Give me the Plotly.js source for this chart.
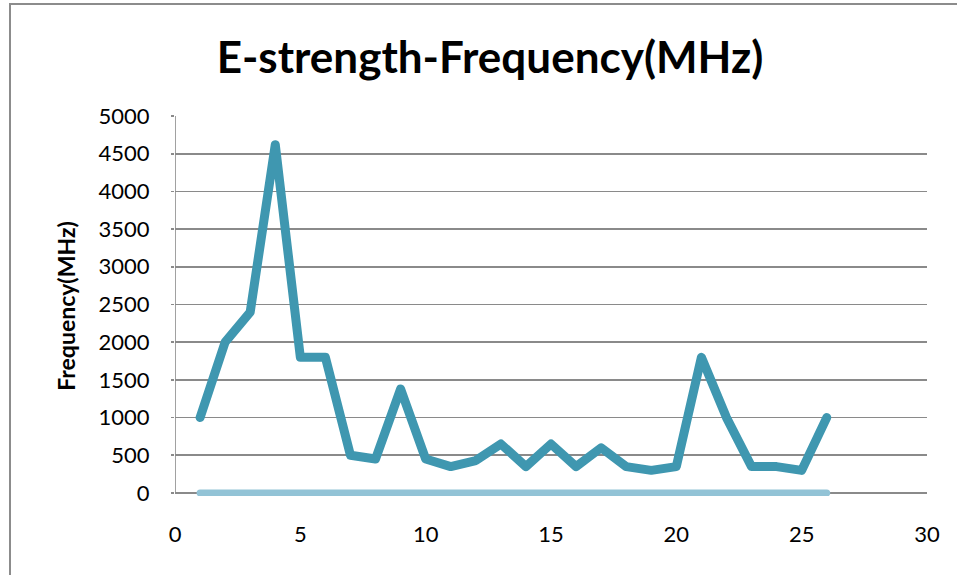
<!DOCTYPE html>
<html>
<head>
<meta charset="utf-8">
<script src="https://cdn.plot.ly/plotly-3.0.1.min.js"></script>
<style>
  html, body { margin: 0; padding: 0; background: #fff; overflow: hidden; }
  #wrap { position: relative; width: 957px; height: 575px; }
  #frame { position: absolute; left: 9px; top: 3px; width: 1000px; height: 620px;
           border-left: 2px solid #8c8c8c; border-top: 2px solid #8c8c8c; pointer-events: none; }
  #chart { position: absolute; left: 0; top: 0; width: 957px; height: 575px; }
  #chart path.js-line { stroke-linecap: round; stroke-linejoin: round; }
</style>
</head>
<body>
<div id="wrap">
  <div id="chart"></div>
  <div id="frame"></div>
</div>
<script>
// Sample index along the x axis
const sampleIndex = [1, 2, 3, 4, 5, 6, 7, 8, 9, 10, 11, 12, 13, 14, 15, 16, 17, 18, 19, 20, 21, 22, 23, 24, 25, 26];
// Measured frequency (MHz) for each sample
const frequencyMHz = [1000, 2000, 2400, 4620, 1800, 1800, 500, 450, 1380, 450, 350, 430, 650, 350, 650, 350, 600, 350, 300, 350, 1800, 1000, 350, 350, 300, 1000];
// Baseline series (E-strength)
const baseline = [0, 0, 0, 0, 0, 0, 0, 0, 0, 0, 0, 0, 0, 0, 0, 0, 0, 0, 0, 0, 0, 0, 0, 0, 0, 0];

const font = "Lato, 'Open Sans', sans-serif";

const traces = [
  {
    x: sampleIndex, y: baseline, type: 'scatter', mode: 'lines',
    line: { color: '#92c3d6', width: 7 },
    hoverinfo: 'x+y', cliponaxis: false
  },
  {
    x: sampleIndex, y: frequencyMHz, type: 'scatter', mode: 'lines',
    line: { color: '#3f97b0', width: 9 },
    hoverinfo: 'x+y', cliponaxis: false
  }
];

const layout = {
  width: 957, height: 575,
  margin: { l: 175, r: 30, t: 116, b: 79 },
  paper_bgcolor: '#ffffff', plot_bgcolor: '#ffffff',
  showlegend: false,
  title: {
    text: '<b>E-strength-Frequency(MHz)</b>',
    font: { family: font, size: 44, color: '#000' },
    x: 0.512, xanchor: 'center', y: 0.9, yanchor: 'middle', yref: 'container'
  },
  xaxis: {
    range: [0, 30], tickvals: [0, 5, 10, 15, 20, 25, 30],
    showgrid: false, zeroline: false,
    showline: false,
    ticks: '', ticklabelstandoff: 23,
    tickfont: { family: font, size: 22, color: '#000' }
  },
  yaxis: {
    // a small margin below zero keeps the thick baseline from being clipped
    range: [-40, 5000], tickvals: [0, 500, 1000, 1500, 2000, 2500, 3000, 3500, 4000, 4500, 5000],
    showgrid: true, gridcolor: '#8a8a8a', gridwidth: 1.6,
    zeroline: true, zerolinecolor: '#8a8a8a', zerolinewidth: 1.6,
    showline: false,
    ticks: 'outside', ticklen: 3, tickcolor: '#8a8a8a', tickwidth: 1.6,
    ticklabelstandoff: 17,
    tickfont: { family: font, size: 22, color: '#000' },
    title: { text: '<b>Frequency(MHz)</b>', font: { family: font, size: 23, color: '#000' }, standoff: 16 }
  },
  shapes: [
    { type: 'line', xref: 'x', yref: 'y', x0: 0, x1: 0, y0: 0, y1: 5000,
      line: { color: '#8a8a8a', width: 1.6 }, layer: 'below' }
  ]
};

Plotly.newPlot('chart', traces, layout, { displayModeBar: false, staticPlot: true });
</script>
</body>
</html>
